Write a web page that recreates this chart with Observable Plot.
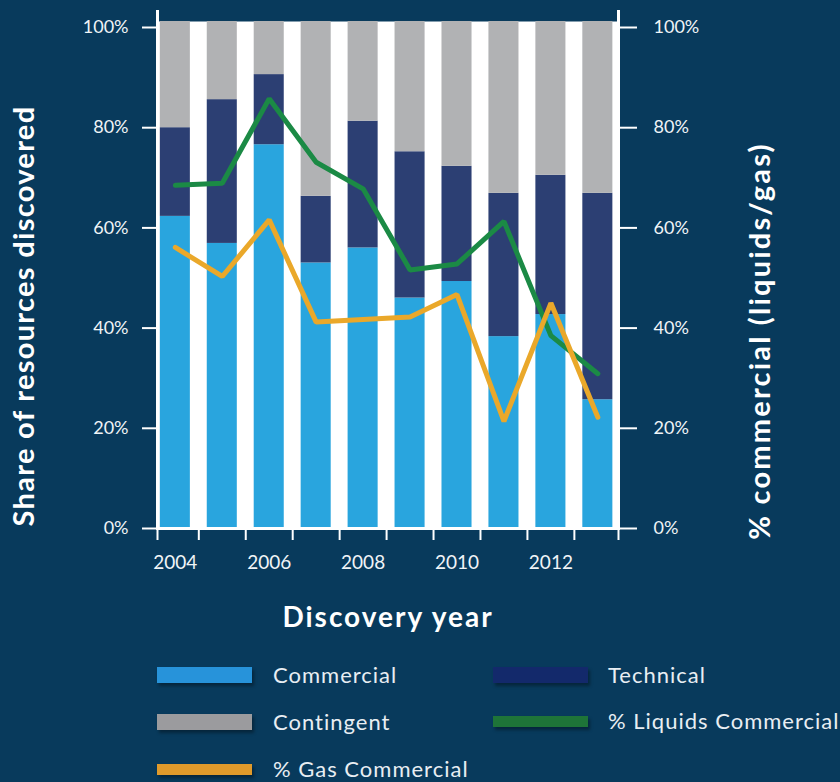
<!DOCTYPE html>
<html>
<head>
<meta charset="utf-8">
<script src="https://cdn.jsdelivr.net/npm/d3@7"></script>
<script src="https://cdn.jsdelivr.net/npm/@observablehq/plot@0.6"></script>
<style>
  html, body { margin: 0; padding: 0; background: #083a5c; }
  #wrap { width: 840px; height: 782px; position: relative; overflow: hidden; background: #083a5c; font-family: Lato, "Open Sans", sans-serif; }
  #legend { position: relative; width: 840px; height: 132px; color: #e8eef3; font-size: 22px; letter-spacing: 1px; }
  .sw { position: absolute; width: 95px; box-shadow: 2px 3px 3px rgba(0,0,0,0.35); }
  .lab { position: absolute; white-space: nowrap; line-height: 30px; }
</style>
</head>
<body>
<div id="wrap">
  <div id="chart"></div>
  <div id="legend"></div>
</div>
<script>
// ---- data ----
const years = [2004, 2005, 2006, 2007, 2008, 2009, 2010, 2011, 2012, 2013];
const commercial = [62.3, 56.9, 76.6, 53.0, 56.0, 46.0, 49.3, 38.3, 42.7, 25.7];
const technical  = [17.7, 28.7, 14.0, 13.3, 25.3, 29.2, 23.0, 28.6, 27.8, 41.2];
const contingent = [21.2, 15.6, 10.6, 34.9, 19.9, 26.0, 28.9, 34.3, 30.7, 34.3];
const liquidsCommercial = [68.5, 68.9, 85.8, 73.1, 67.8, 51.6, 52.8, 61.3, 38.5, 30.9];
const gasCommercial     = [56.1, 50.3, 61.6, 41.2, 41.7, 42.2, 46.7, 21.4, 45.0, 22.2];
const yTicks = [0, 20, 40, 60, 80, 100];
const xTickLabels = [2004, 2006, 2008, 2010, 2012];
const yTitleLeft = "Share of resources discovered";
const yTitleRight = "% commercial (liquids/gas)";
const xTitle = "Discovery year";

const seriesNames = ["Commercial", "Technical", "Contingent", "% Liquids Commercial", "% Gas Commercial"];
const chartColors = ["#29a5de", "#2c3f73", "#b1b2b4", "#1b8a45", "#eaa82a"];
const legendColors = ["#2793da", "#13296b", "#9b9b9e", "#1e7438", "#e09a2b"];

// ---- build tables ----
const stackRows = [];
years.forEach((yr, i) => {
  let base = 0;
  [["Commercial", commercial[i]], ["Technical", technical[i]], ["Contingent", contingent[i]]].forEach(([s, v]) => {
    stackRows.push({year: yr, series: s, y1: base, y2: base + v});
    base += v;
  });
});
const liquidRows = years.map((yr, i) => ({year: yr, value: liquidsCommercial[i], series: "% Liquids Commercial"}));
const gasRows = years.map((yr, i) => ({year: yr, value: gasCommercial[i], series: "% Gas Commercial"}));

const xDomain = [years[0] - 0.38, years[years.length - 1] + 0.44];
const boundaryTicks = [xDomain[0], ...years.slice(0, -1).map(y => y + 0.5), xDomain[1]];

const W = 840, H = 650;
const halfBar = 0.32;

const chart = Plot.plot({
  width: W,
  height: H,
  marginLeft: 157,
  marginRight: 222,
  marginTop: 11,
  marginBottom: H - 528,
  style: {background: "transparent", color: "#ffffff", fontFamily: "Lato, 'Open Sans', sans-serif", fontSize: "18px", overflow: "visible"},
  x: {type: "linear", domain: xDomain},
  y: {domain: [0, 100], range: [528, 27]},
  color: {domain: seriesNames, range: chartColors},
  marks: [
    Plot.frame({fill: "white", stroke: null, insetTop: 10}),
    Plot.rect(stackRows, {x1: d => d.year - halfBar, x2: d => d.year + halfBar, y1: "y1", y2: "y2", fill: "series"}),
    Plot.line(liquidRows, {x: "year", y: "value", stroke: "series", strokeWidth: 5, strokeLinejoin: "miter"}),
    Plot.line(gasRows, {x: "year", y: "value", stroke: "series", strokeWidth: 5, strokeLinejoin: "miter"}),
    Plot.frame({anchor: "left", stroke: "white", strokeWidth: 3}),
    Plot.frame({anchor: "right", stroke: "white", strokeWidth: 3}),
    Plot.frame({anchor: "bottom", stroke: "white", strokeWidth: 3}),
    Plot.axisY({anchor: "left", ticks: yTicks, tickSize: 15, tickPadding: 14, tickFormat: d => d + "%", label: null, stroke: "white", strokeWidth: 2, fontSize: 18, fill: "#f0f4f7"}),
    Plot.axisY({anchor: "right", ticks: yTicks, tickSize: 18, tickPadding: 17, tickFormat: d => d + "%", label: null, stroke: "white", strokeWidth: 2, fontSize: 18, fill: "#f0f4f7"}),
    Plot.axisX({anchor: "bottom", ticks: boundaryTicks, tickSize: 12, tickFormat: () => "", label: null, stroke: "white", strokeWidth: 2}),
    Plot.axisX({anchor: "bottom", ticks: xTickLabels, tickSize: 0, tickPadding: 27, tickFormat: d => String(d), label: null, fontSize: 19, fill: "#f0f4f7"}),
    Plot.text([yTitleLeft], {frameAnchor: "left", text: d => d, dx: -133, dy: 46, rotate: -90, fontSize: 29, fontWeight: "bold", fill: "white", textAnchor: "middle", lineAnchor: "middle"}),
    Plot.text([yTitleRight], {frameAnchor: "right", text: d => d, dx: 142, dy: 71, rotate: -90, fontSize: 29, fontWeight: "bold", fill: "white", textAnchor: "middle", lineAnchor: "middle"}),
    Plot.text([xTitle], {frameAnchor: "bottom", text: d => d, dy: 90, fontSize: 28, fontWeight: "bold", fill: "white", textAnchor: "middle", lineAnchor: "middle"})
  ]
});
document.getElementById("chart").appendChild(chart);

// widen the bold titles to the reference's geometric face
const spacing = new Map([[yTitleLeft, 1.3], [yTitleRight, 2.2], [xTitle, 2]]);
d3.select(chart).selectAll("text").each(function () {
  const s = spacing.get(this.textContent);
  if (s != null) this.setAttribute("letter-spacing", s + "px");
});

// ---- legend ----
const legendItems = [
  {name: "Commercial", color: legendColors[0], left: 157, text: 273, cy: 25, h: 16},
  {name: "Technical", color: legendColors[1], left: 493, text: 608, cy: 25, h: 16},
  {name: "Contingent", color: legendColors[2], left: 157, text: 273, cy: 72, h: 16},
  {name: "% Liquids Commercial", color: legendColors[3], left: 493, text: 608, cy: 71, h: 11},
  {name: "% Gas Commercial", color: legendColors[4], left: 157, text: 273, cy: 119, h: 11}
];
const leg = document.getElementById("legend");
legendItems.forEach(it => {
  const sw = document.createElement("div");
  sw.className = "sw";
  sw.style.left = it.left + "px";
  sw.style.top = (it.cy - it.h / 2) + "px";
  sw.style.height = it.h + "px";
  sw.style.background = it.color;
  leg.appendChild(sw);
  const lb = document.createElement("div");
  lb.className = "lab";
  lb.style.left = it.text + "px";
  lb.style.top = (it.cy - 15) + "px";
  lb.textContent = it.name;
  leg.appendChild(lb);
});
</script>
</body>
</html>
